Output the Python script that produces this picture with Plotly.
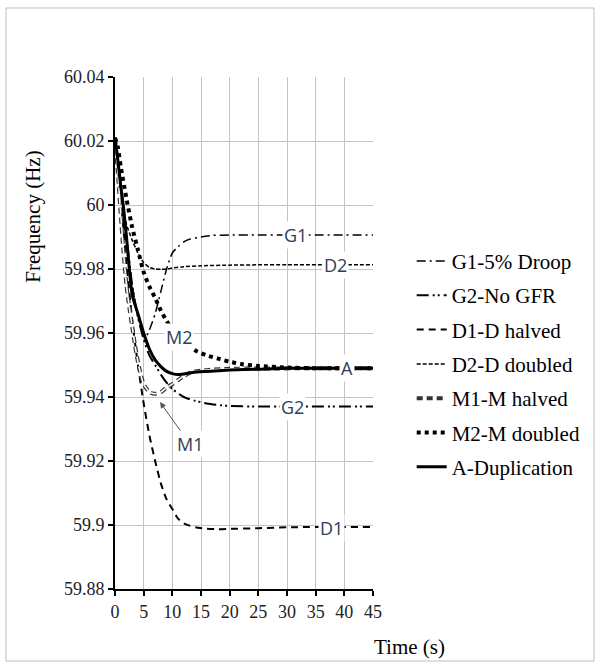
import plotly.graph_objects as go

# time (s) / frequency (Hz)
t_g1 = [0, 1, 2, 3, 4, 5, 5.5, 6, 7, 8, 9, 10, 11, 12, 13, 15, 17, 20, 25, 30, 45]
f_g1 = [60.021, 60.005, 59.988, 59.975, 59.965, 59.9595, 59.9592, 59.961, 59.966, 59.973, 59.980,
        59.985, 59.987, 59.9885, 59.9893, 59.990, 59.9905, 59.9906, 59.9906, 59.9906, 59.9906]

t_g2 = [0, 1, 2, 3, 4, 5, 6, 7, 8, 9, 10, 12, 14, 16, 18, 20, 25, 30, 45]
f_g2 = [60.021, 60.006, 59.990, 59.975, 59.965, 59.958, 59.953, 59.950, 59.947, 59.9445, 59.9425,
        59.940, 59.9388, 59.938, 59.9375, 59.9372, 59.937, 59.937, 59.937]

t_d1 = [0, 0.5, 1, 1.5, 2, 3, 4, 5, 6, 7, 8, 9, 10, 11, 12, 13, 14, 16, 18, 20, 25, 30, 45]
f_d1 = [60.021, 60.012, 60.002, 59.992, 59.982, 59.964, 59.950, 59.938, 59.928, 59.920, 59.913,
        59.908, 59.905, 59.902, 59.9005, 59.8998, 59.8993, 59.8988, 59.8987, 59.8988, 59.899,
        59.8993, 59.8994]

t_d2 = [0, 0.5, 1, 1.5, 2, 3, 4, 5, 6, 7, 8, 9, 10, 12, 15, 20, 25, 30, 45]
f_d2 = [60.021, 60.013, 60.006, 59.999, 59.994, 59.989, 59.985, 59.982, 59.9805, 59.980, 59.9799,
        59.980, 59.9803, 59.9807, 59.981, 59.9812, 59.9813, 59.9813, 59.9813]

t_m1 = [0, 0.5, 1, 1.5, 2, 2.5, 3, 3.5, 4, 4.5, 5, 6, 7, 8, 9, 10, 11, 12, 13, 14, 16, 20, 45]
f_m1 = [60.021, 60.010, 59.997, 59.985, 59.975, 59.968, 59.962, 59.956, 59.951, 59.947, 59.944,
        59.9415, 59.941, 59.9415, 59.943, 59.944, 59.9453, 59.9465, 59.9475, 59.948, 59.9484,
        59.9488, 59.949]

t_m2 = [0, 0.5, 1, 2, 3, 4, 5, 6, 7, 8, 9, 10, 12, 14, 16, 18, 20, 22, 25, 30, 35, 40, 45]
f_m2 = [60.021, 60.018, 60.012, 60.002, 59.993, 59.986, 59.979, 59.9745, 59.971, 59.967, 59.9638,
        59.961, 59.957, 59.9545, 59.953, 59.952, 59.951, 59.9503, 59.9497, 59.9492, 59.949, 59.949,
        59.949]

t_a = [0, 0.5, 1, 1.5, 2, 3, 4, 5, 6, 7, 8, 9, 10, 11, 12, 14, 16, 20, 25, 30, 35, 40, 45]
f_a = [60.021, 60.014, 60.006, 59.999, 59.990, 59.972, 59.966, 59.960, 59.955, 59.9516, 59.9495,
       59.948, 59.9473, 59.947, 59.9472, 59.9478, 59.948, 59.9484, 59.9487, 59.949, 59.949, 59.949,
       59.949]

legend_names = ["G1-5% Droop", "G2-No GFR", "D1-D halved", "D2-D doubled",
                "M1-M halved", "M2-M doubled", "A-Duplication"]

# in-plot curve labels (text, t, f)
curve_labels = [("G1", 31.4, 59.9906), ("D2", 38.4, 59.9813), ("M2", 11.2, 59.9588),
                ("A", 40.5, 59.949), ("G2", 31.0, 59.937), ("D1", 37.8, 59.899)]

SERIF = "Liberation Serif"


def main():
    fig = go.Figure()

    def add(t, f, name, color, width, dash, show=True):
        fig.add_trace(go.Scatter(
            x=t, y=f, mode="lines", name=name, legendgroup=name, showlegend=show,
            line=dict(color=color, width=width, dash=dash, shape="spline", smoothing=0.6),
            hoverinfo="skip"
        ))

    add(t_g1, f_g1, legend_names[0], "black", 1.5, "9px,4px,2px,4px")
    add(t_g2, f_g2, legend_names[1], "black", 2, "12px,4px,2px,3px,2px,4px")
    add(t_d1, f_d1, legend_names[2], "black", 2, "7px,5px")
    add(t_d2, f_d2, legend_names[3], "black", 1.5, "4px,2px")
    # hollow dashes: thick dark dash with a thin white dash on top
    add(t_m1, f_m1, legend_names[4], "#333", 4, "6px,4px")
    add(t_m1, f_m1, legend_names[4] + " inner", "white", 1.6, "6px,4px", show=False)
    add(t_m2, f_m2, legend_names[5], "black", 4, "4px,4px")
    add(t_a, f_a, legend_names[6], "black", 3, "solid")

    label_font = dict(family="Open Sans", size=18, color="#2b3f58")
    for txt, tx, fy in curve_labels:
        fig.add_annotation(x=tx, y=fy, text=txt, showarrow=False, font=label_font,
                           bgcolor="white", borderpad=1)
    fig.add_annotation(x=7.85, y=59.9384, text="M1", showarrow=True, font=label_font,
                       ax=30, ay=42, arrowhead=2, arrowsize=1.2, arrowwidth=1,
                       arrowcolor="#555", bgcolor="white")

    # axis titles
    fig.add_annotation(x=-0.318, y=0.727, xref="paper", yref="paper", text="Frequency (Hz)",
                       textangle=-90, showarrow=False, xanchor="center", yanchor="middle",
                       font=dict(family=SERIF, size=21, color="black"))
    fig.add_annotation(x=1.143, y=-0.113, xref="paper", yref="paper", text="Time (s)",
                       showarrow=False, xanchor="center", yanchor="middle",
                       font=dict(family=SERIF, size=21, color="black"))

    # outer frame
    fig.add_shape(type="rect", xref="paper", yref="paper", x0=-0.4225, x1=1.8566,
                  y0=-0.1406, y1=1.1348, line=dict(color="#bfbfbf", width=1))

    fig.update_layout(
        width=600, height=668,
        margin=dict(l=115, r=227, t=77, b=79),
        paper_bgcolor="white", plot_bgcolor="white",
        font=dict(family=SERIF),
        showlegend=True,
        legend=dict(
            x=1.15, y=0.68, xanchor="left", yanchor="top",
            font=dict(family=SERIF, size=21, color="black"),
            traceorder="grouped", tracegroupgap=4,
            bgcolor="rgba(0,0,0,0)", itemwidth=30
        ),
        xaxis=dict(
            range=[0, 45], dtick=5, tick0=0,
            showgrid=True, gridcolor="#c4c4c4", gridwidth=1,
            showline=True, linecolor="black", linewidth=2,
            ticks="outside", ticklen=5, tickwidth=2, tickcolor="black",
            zeroline=False, tickfont=dict(family=SERIF, size=18, color="#222")
        ),
        yaxis=dict(
            range=[59.88, 60.04], dtick=0.02, tick0=59.88,
            showgrid=True, gridcolor="#c4c4c4", gridwidth=1,
            showline=True, linecolor="black", linewidth=2,
            ticks="outside", ticklen=5, tickwidth=2, tickcolor="black",
            zeroline=False, tickfont=dict(family=SERIF, size=18, color="#222")
        )
    )

    # drop the default page margin so the figure sits at the window origin
    fig.write_html("out.html", config={"displayModeBar": False},
                   post_script="document.body.style.margin='0';")


if __name__ == "__main__":
    main()
